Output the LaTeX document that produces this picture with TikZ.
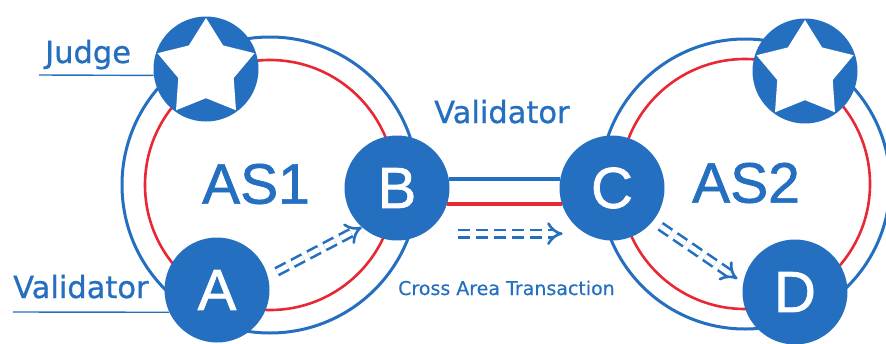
\documentclass[tikz,border=0pt]{standalone}
\usepackage{fontspec}
\setmainfont{Liberation Sans}
\newfontfamily\bigfont{Liberation Sans}[FakeBold=1.2]
\newfontfamily\lblfont{DejaVu Sans}[FakeBold=0.8]
\newfontfamily\smallfont{DejaVu Sans}[FakeBold=0.4]
\usepackage{tikz}
\usetikzlibrary{arrows.meta,positioning,shapes.geometric}
\definecolor{asblue}{RGB}{37,111,192}
\definecolor{asred}{RGB}{232,40,52}

\begin{document}
\begin{tikzpicture}[
  x=1pt, y=-1pt,
  peer/.style={circle, fill=asblue, minimum size=105pt, inner sep=0pt,
    text=white, font=\bigfont\fontsize{58}{60}\selectfont},
  starmark/.style={star, star points=5, star point ratio=1.75, fill=white,
    minimum size=102pt, inner sep=0pt},
  ring/.style={draw=asblue, line width=3pt},
  redring/.style={draw=asred, line width=2.6pt},
  areatext/.style={text=asblue, font=\bigfont\fontsize{57}{60}\selectfont},
  tag/.style={text=asblue, anchor=base west, inner sep=0pt,
    font=\lblfont\fontsize{30.5}{34}\selectfont},
  link/.style={line width=3.6pt},
  flow/.style={-{Implies}, asblue, line width=2.6pt, double=white,
    double distance=5pt, dash pattern=on 12pt off 6pt}
]
  \useasboundingbox (0,0) rectangle (886,343);

  \coordinate (c1) at (270,185);
  \coordinate (c2) at (745,184);
  \draw[ring] (c1) circle (148);
  \draw[redring] (c1) circle (125);
  \draw[ring] (c2) circle (145);
  \draw[redring] (c2) circle (125);

  \node[areatext] (as1) at (256,184) {AS1};
  \node[areatext] (as2) at (746,183) {AS2};

  \node[peer] (j1) at (206,69) {};
  \node[starmark] at (j1) {};
  \node[peer] (j2) at (805,71) {};
  \node[starmark] at (j2) {};
  \node[peer] (a) at (217,290) {A};
  \node[peer] (b) at (397,188) {B};
  \node[peer] (c) at (612,188) {C};
  \node[peer] (d) at (795,292) {D};

  \draw[link, asblue] (b.10) -- (c.170);
  \draw[link, asred] (b.-18) -- (c.198);

  \node[tag] (judge) at (45,63) {Judge};
  \node[tag] (val1) at (13,298) {Validator};
  \node[tag] (val2) at (434,123) {Validator};
  \node[tag, font=\smallfont\fontsize{19}{22}\selectfont] (cross) at (398,295)
    {Cross Area Transaction};

  \coordinate (jl) at (39,75);
  \coordinate (vl) at (13,312);
  \draw[asblue, line width=1.4pt] (jl) -- (j1.187);
  \draw[asblue, line width=1.4pt] (vl) -- (a.205);

  \draw[flow, shorten <=10pt] (a.15) -- (b.228);
  \draw[flow, shorten <=35pt, shorten >=23pt] (b.-60) -- (c.-120);
  \draw[flow, shorten <=9pt, shorten >=7pt] (c.-39) -- (d.170);
\end{tikzpicture}
\end{document}
